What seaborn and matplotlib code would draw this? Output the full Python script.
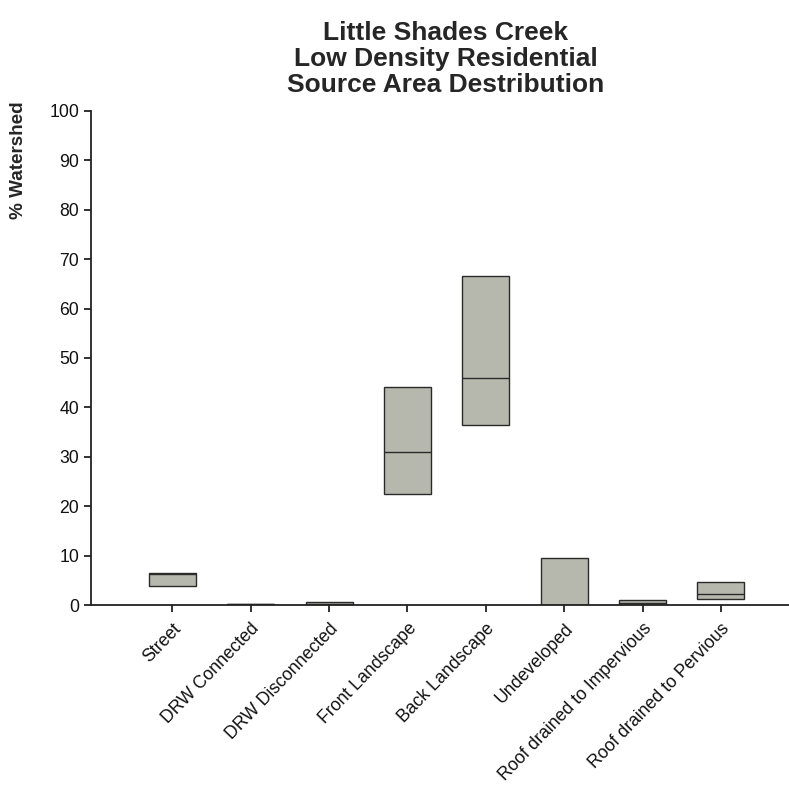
import pandas as pd
import seaborn as sns
import matplotlib.pyplot as plt

# Source areas and box values (% watershed)
categories = ["Street", "DRW Connected", "DRW Disconnected", "Front Landscape",
              "Back Landscape", "Undeveloped", "Roof drained to Impervious",
              "Roof drained to Pervious"]
lower = [3.9, 0.0, 0.05, 22.4, 36.4, 0.0, 0.1, 1.3]
median = [6.2, 0.15, 0.3, 31.0, 45.9, 0.0, 0.4, 2.3]
upper = [6.4, 0.3, 0.6, 44.2, 66.6, 9.6, 0.95, 4.6]

# long table: lower/median/upper per category gives those quartiles, no whiskers
rows = []
for cat, lo, med, hi in zip(categories, lower, median, upper):
    for v in (lo, lo, med, hi, hi):
        rows.append({"area": cat, "pct": v})
df = pd.DataFrame(rows)

sns.set_style("ticks")
plt.rcParams["font.family"] = ["Liberation Sans", "DejaVu Sans"]

fig = plt.figure(figsize=(7.89, 7.99), dpi=100)
ax = fig.add_axes([0.1153, 0.2428, 0.8847, 0.6183])

sns.boxplot(data=df, x="area", y="pct", order=categories, ax=ax,
            color="#b7b8ad", saturation=1, width=0.6, linecolor="#2a2a2a",
            linewidth=1.0, showcaps=False, fliersize=0,
            whiskerprops={"linewidth": 0})

ax.set_ylim(0, 100)
ax.set_xlim(-1.04, 7.87)
ax.set_yticks(range(0, 101, 10))
sns.despine(ax=ax)
for side in ("left", "bottom"):
    ax.spines[side].set_linewidth(1.3)
    ax.spines[side].set_color("#222222")
ax.tick_params(axis="both", direction="out", length=5, width=1.3,
               color="#222222", labelsize=12.7, labelcolor="#111111")
ax.set_xticks(range(len(categories)))
ax.set_xticklabels(categories, rotation=46, ha="right", rotation_mode="anchor")
ax.tick_params(axis="x", pad=6)

ax.set_xlabel("")
ax.set_ylabel("% Watershed", fontsize=13.6, fontweight="bold")
ax.yaxis.set_label_coords(-0.092, 0.90)

ax.set_title("Little Shades Creek\nLow Density Residential\nSource Area Destribution",
             fontsize=19, fontweight="bold", linespacing=1.08, pad=14, x=0.508)

fig.savefig("out.png", dpi=100)
